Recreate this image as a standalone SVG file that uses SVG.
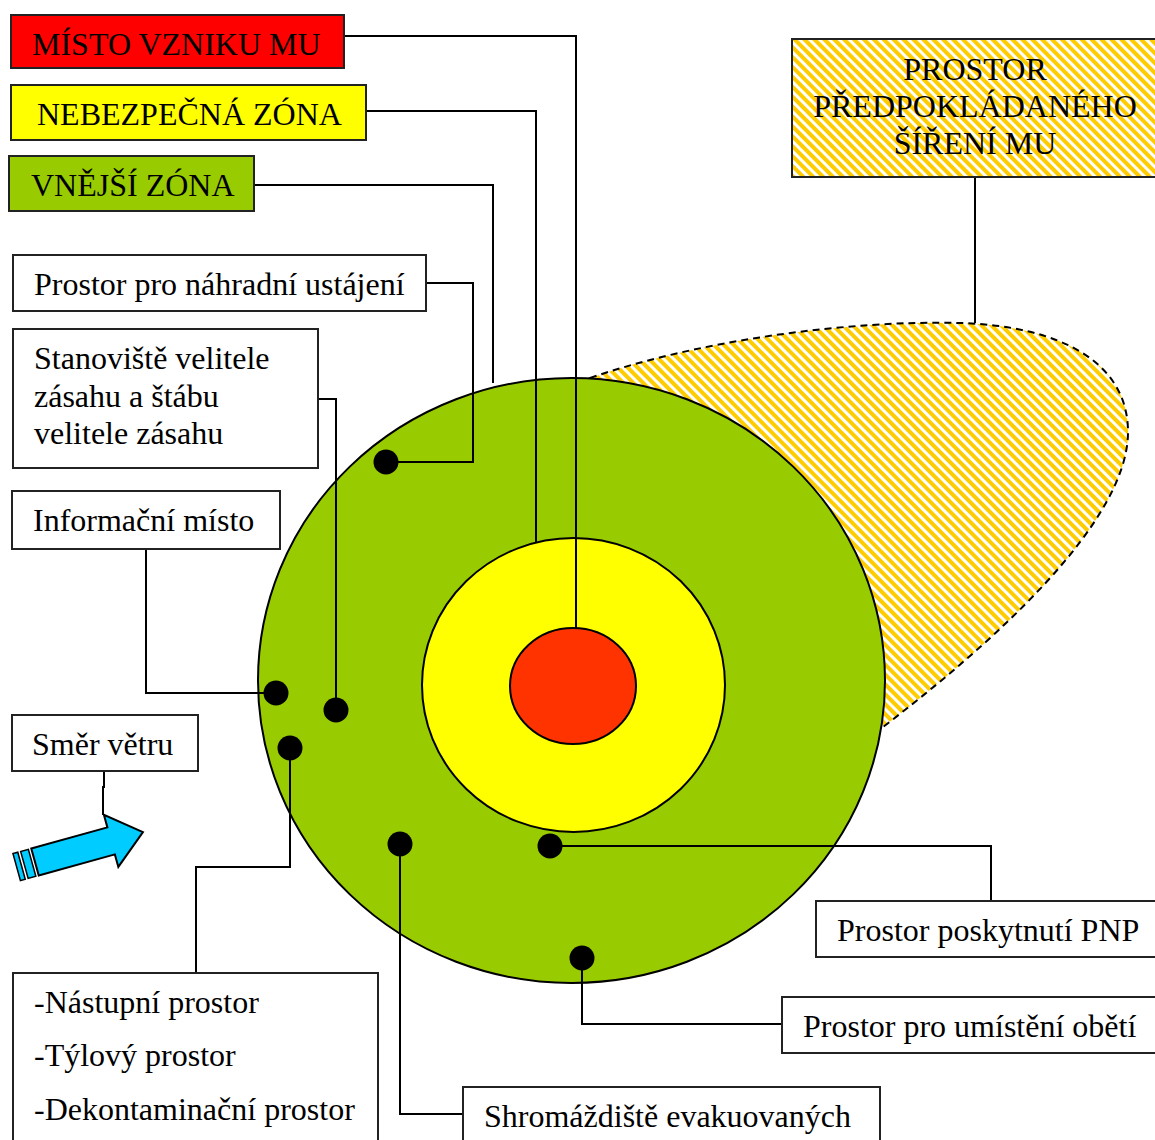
<svg xmlns="http://www.w3.org/2000/svg" width="1155" height="1140" viewBox="0 0 1155 1140">
<style>
  text { font-family: "Liberation Serif", "Times New Roman", serif; font-size: 32px; fill: #000; }
  .box { stroke: #222; stroke-width: 2; }
  .wire { fill: none; stroke: #000; stroke-width: 2; }
  .dot { fill: #000; }
</style>
<defs>
  <pattern id="hatch" patternUnits="userSpaceOnUse" width="7" height="7" patternTransform="rotate(-45)">
    <rect width="7" height="7" fill="#ffffff"/>
    <rect x="0" y="0" width="4" height="7" fill="#FFCC00"/>
  </pattern>
</defs>
<rect width="1155" height="1140" fill="#ffffff"/>

<g id="spread-area">
  <path d="M590,378 C700,340 850,320 960,323 C1060,326 1128,362 1128,432 C1128,520 1000,640 858,746 L590,378 Z" fill="url(#hatch)" stroke="#000" stroke-width="2" stroke-dasharray="7,5"/>
</g>

<g id="zones">
  <ellipse id="outer-zone" cx="571.5" cy="680.5" rx="313.5" ry="302.5" fill="#99CC00" stroke="#000" stroke-width="2"/>
  <ellipse id="danger-zone" cx="573.5" cy="685" rx="151.5" ry="147" fill="#FFFF00" stroke="#000" stroke-width="2"/>
  <ellipse id="origin" cx="573" cy="686" rx="63" ry="58" fill="#FF3300" stroke="#000" stroke-width="2"/>
</g>

<g id="connectors">
  <polyline class="wire" points="344,36 576,36 576,628"/>
  <polyline class="wire" points="366,111 536,111 536,542"/>
  <polyline class="wire" points="254,185 493,185 493,383"/>
  <polyline class="wire" points="426,283 473,283 473,462 386,462"/>
  <polyline class="wire" points="318,399 336,399 336,710"/>
  <polyline class="wire" points="146,549 146,693 276,693"/>
  <polyline class="wire" points="104,771 104,787 103,787 103,815"/>
  <polyline class="wire" points="290,748 290,867 196,867 196,973"/>
  <polyline class="wire" points="400,844 400,1114 463,1114"/>
  <polyline class="wire" points="550,846 991,846 991,901"/>
  <polyline class="wire" points="582,958 582,1024 782,1024"/>
  <line class="wire" x1="975" y1="177" x2="975" y2="323"/>
</g>

<g id="dots">
  <circle class="dot" cx="386" cy="462" r="12.5"/>
  <circle class="dot" cx="336" cy="710" r="12.5"/>
  <circle class="dot" cx="276" cy="693" r="12.5"/>
  <circle class="dot" cx="290" cy="748" r="12.5"/>
  <circle class="dot" cx="400" cy="844" r="12.5"/>
  <circle class="dot" cx="550" cy="846" r="12.5"/>
  <circle class="dot" cx="582" cy="958" r="12.5"/>
</g>

<g id="wind-arrow" transform="translate(35,862) rotate(-15.5)">
  <path d="M0,-14 L79,-14 L79,-27 L112,0 L79,27 L79,14 L0,14 Z" fill="#00CCFF" stroke="#000" stroke-width="2" stroke-linejoin="miter"/>
  <rect x="-11" y="-14" width="8" height="28" fill="#00CCFF" stroke="#000" stroke-width="1.5"/>
  <rect x="-19" y="-14" width="5" height="28" fill="#00CCFF" stroke="#000" stroke-width="1.5"/>
</g>

<g id="n-misto">
  <rect class="box" x="11" y="15" width="333" height="53" fill="#FF0000"/>
  <text x="32" y="55">MÍSTO VZNIKU MU</text>
</g>
<g id="n-nebezpecna">
  <rect class="box" x="11" y="85" width="355" height="55" fill="#FFFF00"/>
  <text x="37" y="125">NEBEZPEČNÁ ZÓNA</text>
</g>
<g id="n-vnejsi">
  <rect class="box" x="9" y="156" width="245" height="55" fill="#99CC00"/>
  <text x="31" y="196">VNĚJŠÍ ZÓNA</text>
</g>
<g id="n-ustajeni">
  <rect class="box" x="13" y="255" width="413" height="56" fill="#ffffff"/>
  <text x="34" y="295">Prostor pro náhradní ustájení</text>
</g>
<g id="n-stanoviste">
  <rect class="box" x="13" y="329" width="305" height="139" fill="#ffffff"/>
  <text x="34" y="369">Stanoviště velitele</text>
  <text x="34" y="407">zásahu a štábu</text>
  <text x="34" y="444">velitele zásahu</text>
</g>
<g id="n-informacni">
  <rect class="box" x="12" y="491" width="268" height="58" fill="#ffffff"/>
  <text x="33" y="531">Informační místo</text>
</g>
<g id="n-smer">
  <rect class="box" x="12" y="715" width="186" height="56" fill="#ffffff"/>
  <text x="32" y="755">Směr větru</text>
</g>
<g id="n-prostory">
  <rect class="box" x="13" y="973" width="365" height="180" fill="#ffffff"/>
  <text x="34" y="1013">-Nástupní prostor</text>
  <text x="34" y="1066">-Týlový prostor</text>
  <text x="34" y="1120">-Dekontaminační prostor</text>
</g>
<g id="n-shromazdiste">
  <rect class="box" x="463" y="1087" width="417" height="70" fill="#ffffff"/>
  <text x="484" y="1127">Shromáždiště evakuovaných</text>
</g>
<g id="n-pnp">
  <rect class="box" x="816" y="901" width="350" height="56" fill="#ffffff"/>
  <text x="837" y="941">Prostor poskytnutí PNP</text>
</g>
<g id="n-obeti">
  <rect class="box" x="782" y="997" width="384" height="56" fill="#ffffff"/>
  <text x="803" y="1037">Prostor pro umístění obětí</text>
</g>
<g id="n-sireni">
  <rect class="box" x="792" y="39" width="374" height="138" fill="url(#hatch)"/>
  <text x="975" y="80" text-anchor="middle">PROSTOR</text>
  <text x="975" y="117" text-anchor="middle">PŘEDPOKLÁDANÉHO</text>
  <text x="975" y="154" text-anchor="middle">ŠÍŘENÍ MU</text>
</g>
</svg>
